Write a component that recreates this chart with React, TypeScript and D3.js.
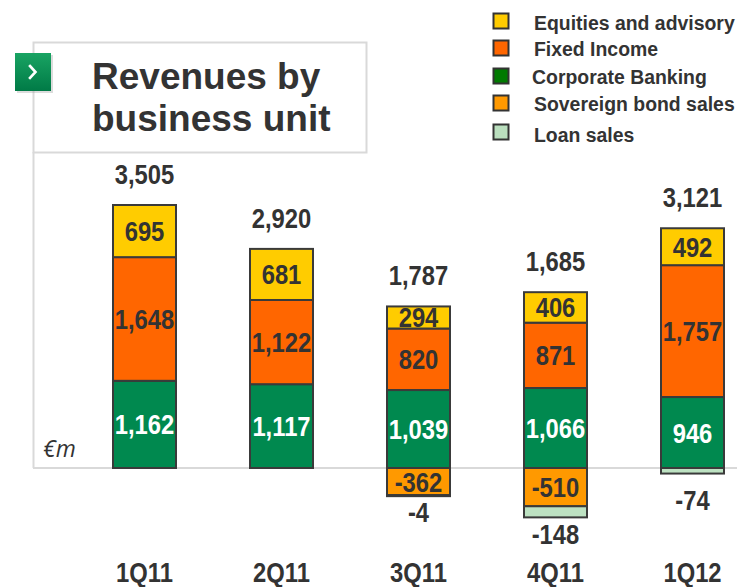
import React from "react";
import * as d3 from "d3";

const categories = ["1Q11", "2Q11", "3Q11", "4Q11", "1Q12"];
const corporateBanking = [1162, 1117, 1039, 1066, 946];
const fixedIncome = [1648, 1122, 820, 871, 1757];
const equities = [695, 681, 294, 406, 492];
const sovereignBonds = [0, 0, -362, -510, 0];
const loanSales = [0, 0, -4, -148, -74];
const totals = [3505, 2920, 1787, 1685, 3121];

const seriesKeys = ["corporate", "fixed", "equities", "sovereign", "loan"];
const seriesNames: Record<string, string> = {
  equities: "Equities and advisory",
  fixed: "Fixed Income",
  corporate: "Corporate Banking",
  sovereign: "Sovereign bond sales",
  loan: "Loan sales",
};
const legendOrder = ["equities", "fixed", "corporate", "sovereign", "loan"];

const barFill: Record<string, string> = {
  corporate: "#00894F",
  fixed: "#FF6600",
  equities: "#FFCC00",
  sovereign: "#FF9900",
  loan: "#BDE2C2",
};
const legendFill: Record<string, string> = {
  corporate: "#007A00",
  fixed: "#FF6600",
  equities: "#FFCC00",
  sovereign: "#FF9900",
  loan: "#BADFBE",
};
const labelColor: Record<string, string> = {
  corporate: "#FFFFFF",
  fixed: "#333333",
  equities: "#333333",
  sovereign: "#333333",
  loan: "#333333",
};

const W = 737;
const H = 587;
const TEXT = "#333333";
const NUM_FONT = "'Liberation Sans', Arial, sans-serif";
const fmt = d3.formatLocale({
  decimal: ".",
  thousands: ",",
  grouping: [3],
  currency: ["", ""],
  minus: "-",
}).format(",");

export default function App() {
  const rows = categories.map((c, i) => ({
    cat: c,
    corporate: corporateBanking[i],
    fixed: fixedIncome[i],
    equities: equities[i],
    sovereign: sovereignBonds[i],
    loan: loanSales[i],
  }));
  const stacked = d3
    .stack<any>()
    .keys(seriesKeys)
    .offset(d3.stackOffsetDiverging)(rows);

  const x = d3.scalePoint<string>().domain(categories).range([144.5, 692.5]);
  const barW = 63;
  const y = d3.scaleLinear().domain([0, 3505]).range([468, 205]);

  const numText = (
    key: string,
    cx: number,
    cy: number,
    txt: string,
    fill: string,
    size = 28
  ) => (
    <text
      key={key}
      transform={`translate(${cx},${cy}) scale(0.85,1)`}
      textAnchor="middle"
      fontFamily={NUM_FONT}
      fontWeight="bold"
      fontSize={size}
      fill={fill}
    >
      {txt}
    </text>
  );

  const segs: React.ReactNode[] = [];
  const segLabels: React.ReactNode[] = [];
  stacked.forEach((s) => {
    s.forEach((d, i) => {
      const v = (d.data as any)[s.key];
      if (!v) return;
      const y0 = y(Math.max(d[0], d[1]));
      const y1 = y(Math.min(d[0], d[1]));
      const cx = x(categories[i])!;
      segs.push(
        <rect
          key={`${s.key}-${i}`}
          x={cx - barW / 2}
          y={y0}
          width={barW}
          height={Math.max(y1 - y0, 1)}
          fill={barFill[s.key]}
          stroke="#3a3a3a"
          strokeWidth={2}
        />
      );
      if (s.key === "loan") {
        const bottom = y1;
        const cy = Math.max(bottom + 17, y(0) + 32);
        segLabels.push(numText(`l-${s.key}-${i}`, cx, cy + 10, fmt(v), TEXT));
      } else {
        const cy = (y0 + y1) / 2;
        segLabels.push(
          numText(`l-${s.key}-${i}`, cx, cy + 10, fmt(v), labelColor[s.key])
        );
      }
    });
  });

  const tops = categories.map((c, i) => {
    let top = 0;
    stacked.forEach((s) => {
      top = Math.max(top, s[i][1]);
    });
    return y(top);
  });

  return (
    <svg
      width={W}
      height={H}
      style={{ position: "absolute", left: 0, top: 0, background: "#fff" }}
    >
      <defs>
        <linearGradient id="iconGrad" x1="0" y1="0" x2="0" y2="1">
          <stop offset="0%" stopColor="#19a463" />
          <stop offset="100%" stopColor="#007a46" />
        </linearGradient>
      </defs>
      <rect width={W} height={H} fill="#fff" />

      {/* title box */}
      <rect
        x={33.5}
        y={42.5}
        width={333}
        height={110}
        fill="none"
        stroke="#d9d9d9"
        strokeWidth={2}
      />
      <line x1={33.5} y1={152} x2={33.5} y2={468} stroke="#d9d9d9" strokeWidth={2} />
      <line x1={33} y1={468} x2={737} y2={468} stroke="#d9d9d9" strokeWidth={2} />

      {/* icon */}
      <rect x={17} y={55} width={36} height={38} fill="#9a9a9a" opacity={0.35} />
      <rect x={15} y={53} width={36} height={38} fill="url(#iconGrad)" />
      <path
        d="M30 66 L35.5 72 L30 78"
        fill="none"
        stroke="#fff"
        strokeWidth={2.6}
        strokeLinecap="square"
      />

      <text
        x={92}
        y={89}
        fontFamily="'Liberation Sans', Arial, sans-serif"
        fontWeight="bold"
        fontSize={37}
        fill={TEXT}
      >
        Revenues by
      </text>
      <text
        x={92}
        y={131}
        fontFamily="'Liberation Sans', Arial, sans-serif"
        fontWeight="bold"
        fontSize={37}
        fill={TEXT}
      >
        business unit
      </text>

      {/* legend */}
      {legendOrder.map((k, i) => {
        const ys = [13, 40, 68, 95, 124][i];
        const ty = [30, 56, 84, 111, 142][i];
        return (
          <g key={k}>
            <rect
              x={493.5}
              y={ys + 0.5}
              width={15}
              height={15}
              fill={legendFill[k]}
              stroke="#333"
              strokeWidth={2}
            />
            <text
              transform={`translate(${k === "corporate" ? 532 : 534},${ty}) scale(0.925,1)`}
              fontFamily="'Liberation Sans', Arial, sans-serif"
              fontWeight="bold"
              fontSize={21}
              fill={TEXT}
            >
              {seriesNames[k]}
            </text>
          </g>
        );
      })}

      <text
        x={43}
        y={457}
        fontFamily="'Open Sans', 'Noto Sans', sans-serif"
        fontStyle="italic"
        fontSize={23}
        fill={TEXT}
      >
        €m
      </text>

      {segs}
      {segLabels}

      {categories.map((c, i) =>
        numText(`t-${c}`, x(c)!, tops[i] - 21, fmt(totals[i]), TEXT)
      )}
      {categories.map((c) => numText(`c-${c}`, x(c)!, 582, c, TEXT))}
    </svg>
  );
}
